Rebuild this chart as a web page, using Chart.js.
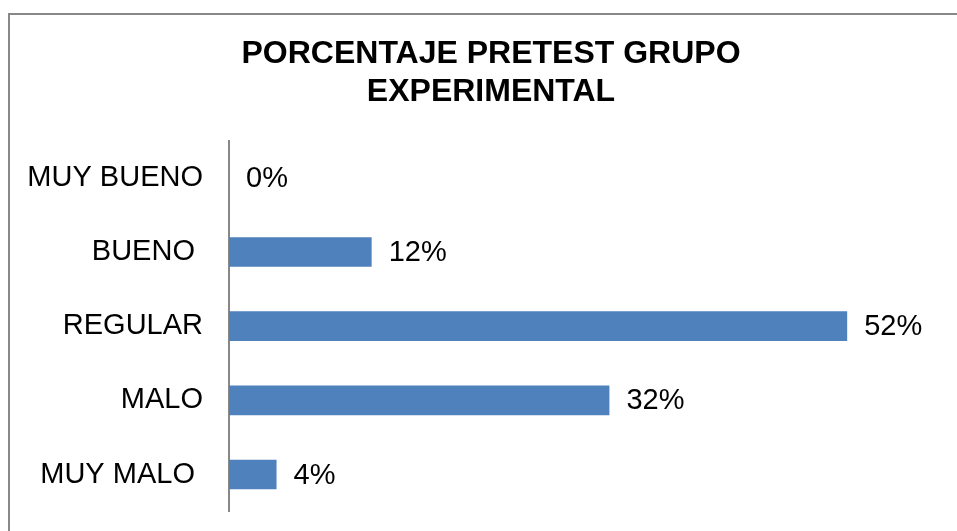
<!DOCTYPE html>
<html>
<head>
<meta charset="utf-8">
<script src="https://cdn.jsdelivr.net/npm/chart.js@4/dist/chart.umd.min.js"></script>
<style>
  html, body { margin: 0; padding: 0; background: #fff; overflow: hidden; }
  #box { position: absolute; left: 8px; top: 13px; border: 2px solid #888; width: 966px; height: 560px; }
  canvas { display: block; }
</style>
</head>
<body>
<div id="box"><canvas id="chart" width="962" height="540"></canvas></div>
<script>
const categories = ['MUY BUENO', 'BUENO ', 'REGULAR', 'MALO', 'MUY MALO '];
const percentValues = [0, 12, 52, 32, 4];
const titleLines = ['PORCENTAJE PRETEST GRUPO', 'EXPERIMENTAL'];

// draws the "xx%" next to each bar
const valueLabels = {
    id: 'valueLabels',
    afterDatasetsDraw(chart) {
        const ctx = chart.ctx;
        const meta = chart.getDatasetMeta(0);
        ctx.save();
        ctx.font = '29px "Liberation Sans", Arial, sans-serif';
        ctx.fillStyle = '#000';
        ctx.textAlign = 'left';
        ctx.textBaseline = 'middle';
        meta.data.forEach((bar, i) => {
            ctx.fillText(percentValues[i] + '%', bar.x + 17, bar.y + 1);
        });
        ctx.restore();
    }
};

var ctx = document.getElementById('chart').getContext('2d');
var chart = new Chart(ctx, {
    type: 'bar',
    data: {
        labels: categories,
        datasets: [
            {
                data: percentValues,
                backgroundColor: '#4F81BD',
                borderWidth: 0,
                barPercentage: 0.4,
                categoryPercentage: 1
            }
        ]
    },
    options: {
        indexAxis: 'y',
        responsive: false,
        animation: false,
        layout: { padding: { left: 0, right: 0, top: 0, bottom: 4 } },
        plugins: {
            legend: { display: false },
            tooltip: { enabled: false },
            title: {
                display: true,
                text: titleLines,
                color: '#000',
                font: { family: '"Liberation Sans", Arial, sans-serif', size: 32, weight: 'bold', lineHeight: 1.2 },
                padding: { top: 20, bottom: 29 }
            }
        },
        scales: {
            x: {
                display: false,
                min: 0,
                max: 62.5
            },
            y: {
                grid: { display: false, drawTicks: false },
                border: { display: true, color: '#888', width: 2 },
                ticks: {
                    color: '#000',
                    padding: 26,
                    font: { family: '"Liberation Sans", Arial, sans-serif', size: 29 }
                },
                afterFit(scale) { scale.width = 219; }
            }
        }
    },
    plugins: [valueLabels]
});
</script>
</body>
</html>
